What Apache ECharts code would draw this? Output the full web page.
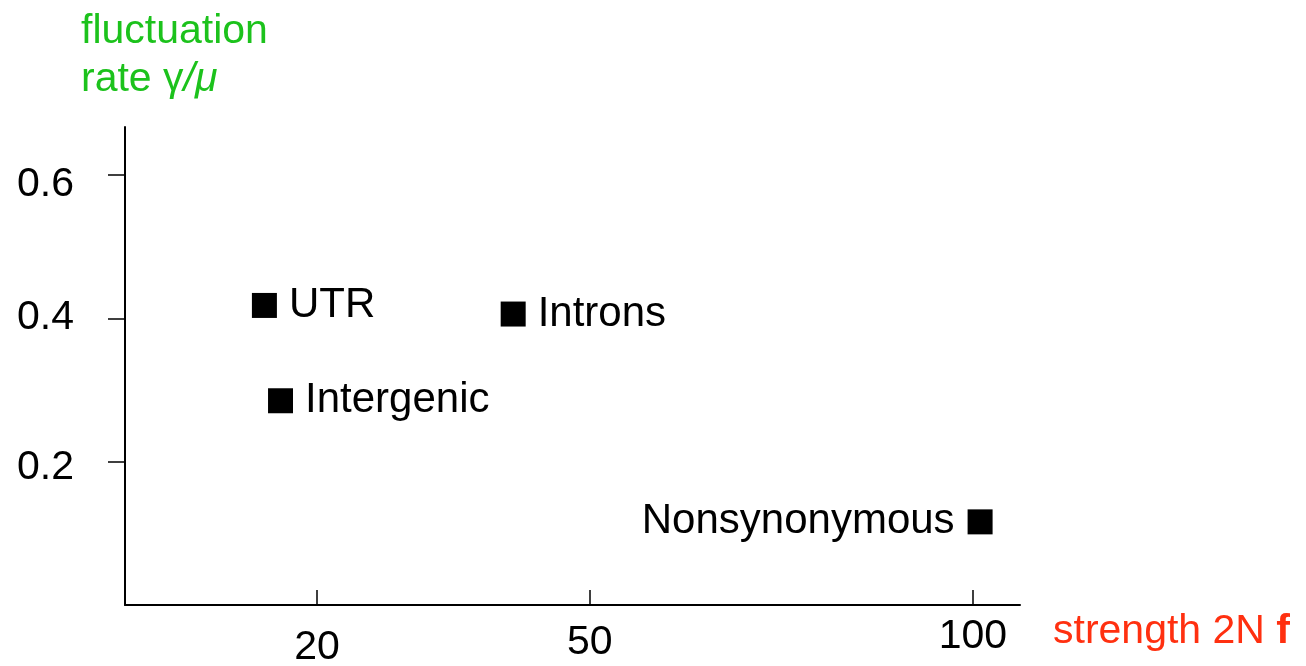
<!DOCTYPE html>
<html>
<head>
<meta charset="utf-8">
<script src="https://cdn.jsdelivr.net/npm/echarts@6/dist/echarts.min.js"></script>
<style>html,body{margin:0;padding:0;background:#fff}#c{width:1306px;height:666px}</style>
</head>
<body>
<div id="c"></div>
<script>
// Data
const categories = ['UTR', 'Intergenic', 'Introns', 'Nonsynonymous'];
const strength = [15.0, 16.5, 41.0, 101];        // 2N f
const fluctuation = [0.418, 0.285, 0.406, 0.116]; // gamma / mu
const xTickLabels = [20, 50, 100];
const yTickLabels = [0.2, 0.4, 0.6];

// the x-axis of the original is drawn on a compressed (power) scale
const P = 0.78;
const tx = s => Math.pow(s, P);
const inv = u => Math.pow(u, 1 / P);

const FONT = 'Liberation Sans, Arial, Helvetica, sans-serif';
const chart = echarts.init(document.getElementById('c'), null, {renderer: 'canvas'});

const points = categories.map((c, i) => ({
  name: c,
  value: [tx(strength[i]), fluctuation[i]],
  label: c === 'Nonsynonymous'
    ? {position: 'left', distance: 13, color: '#000'}
    : {position: 'right', distance: 12, color: '#000'}
}));

const xRich = {
  a: {fontSize: 41, fontFamily: FONT, color: '#000', padding: [14, 0, 0, 0]},
  b: {fontSize: 41, fontFamily: FONT, color: '#000', padding: [9, 0, 0, 0]},
  c: {fontSize: 41, fontFamily: FONT, color: '#000', padding: [3, 0, 0, 0]}
};
const xKeys = ['a', 'b', 'c'];
const yRich = {
  a: {fontSize: 41, fontFamily: FONT, color: '#000', padding: [12, 0, 0, 0]},
  b: {fontSize: 41, fontFamily: FONT, color: '#000', padding: [0, 0, 2, 0]},
  c: {fontSize: 41, fontFamily: FONT, color: '#000', padding: [20, 0, 0, 0]}
};

chart.setOption({
  animation: false,
  backgroundColor: '#fff',
  textStyle: {fontFamily: FONT},
  title: {
    left: 81, top: 8, padding: 0,
    text: 'fluctuation\nrate {g|γ}{i|/μ}',
    textStyle: {
      fontFamily: FONT, fontSize: 41, fontWeight: 'normal', color: '#1cc21c', lineHeight: 48,
      rich: {
        g: {fontFamily: FONT, fontSize: 41, color: '#1cc21c', lineHeight: 48},
        i: {fontFamily: FONT, fontSize: 41, fontStyle: 'italic', color: '#1cc21c', lineHeight: 48}
      }
    }
  },
  grid: {left: 125, right: 286, top: 127, bottom: 61, containLabel: false, outerBoundsMode: 'none'},
  xAxis: {
    type: 'value',
    min: 2.75, max: 38.17,
    splitLine: {show: false},
    axisLine: {show: true, lineStyle: {color: '#000', width: 2}},
    axisTick: {show: true, inside: true, length: 15, lineStyle: {color: '#000', width: 1.5},
      customValues: xTickLabels.map(tx)},
    axisLabel: {
      show: true, color: '#000', fontSize: 41, fontFamily: FONT, margin: 8,
      customValues: xTickLabels.map(tx),
      formatter: v => {
        const s = Math.round(inv(v));
        const k = xKeys[xTickLabels.indexOf(s)] || 'a';
        return '{' + k + '|' + s + '}';
      },
      rich: xRich
    },
    name: 'strength 2N {b|f}',
    nameLocation: 'end',
    nameGap: 33,
    nameTextStyle: {
      color: '#ff3010', fontSize: 41, fontFamily: FONT, padding: [54, 0, 0, 0],
      rich: {b: {fontWeight: 'bold', color: '#ff3010', fontSize: 41, fontFamily: FONT}}
    }
  },
  yAxis: {
    type: 'value',
    min: 0, max: 0.667,
    splitLine: {show: false},
    axisLine: {show: true, lineStyle: {color: '#000', width: 2}},
    axisTick: {show: true, length: 17, lineStyle: {color: '#000', width: 1.5}, customValues: yTickLabels},
    axisLabel: {show: true, color: '#000', fontSize: 41, fontFamily: FONT, margin: 51,
      customValues: yTickLabels,
      formatter: v => {
        const k = ['a', 'b', 'c'][yTickLabels.findIndex(t => Math.abs(t - v) < 1e-6)] || 'a';
        return '{' + k + '|' + v.toFixed(1) + '}';
      },
      rich: yRich}
  },
  series: [{
    type: 'scatter',
    symbol: 'rect',
    symbolSize: 25,
    itemStyle: {color: '#000', opacity: 1},
    data: points,
    label: {show: true, formatter: p => p.name, color: '#000', fontSize: 42, fontFamily: FONT}
  }]
});
</script>
</body>
</html>
